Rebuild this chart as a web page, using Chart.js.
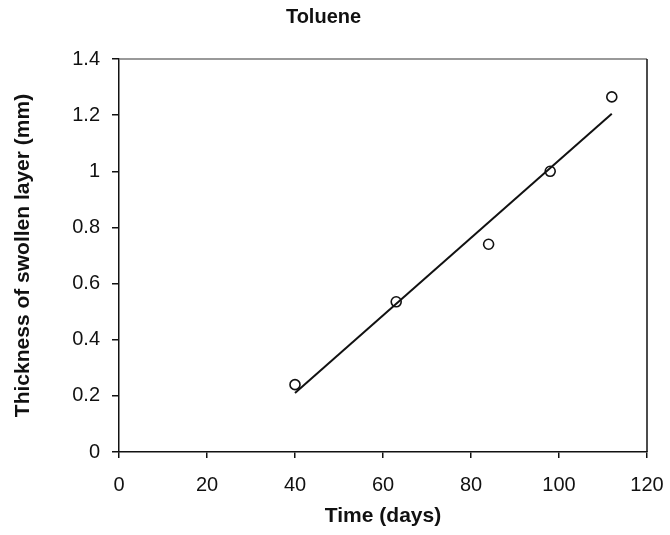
<!DOCTYPE html>
<html>
<head>
<meta charset="utf-8">
<title>Toluene</title>
<script src="https://cdn.jsdelivr.net/npm/chart.js@4.4.1/dist/chart.umd.min.js"></script>
<style>
  html, body { margin: 0; padding: 0; background: #fff; }
  #wrap { width: 670px; height: 535px; }
</style>
</head>
<body>
<div id="wrap"><canvas id="canvas" width="670" height="535"></canvas></div>
<script>
// measured swelling, toluene
const timeDays = [40, 63, 84, 98, 112];
const thickness = [0.24, 0.535, 0.74, 1.0, 1.265];

// fitted line end points
const fitDays = [40, 112];
const fitThickness = [0.21, 1.205];

const xTicks = [0, 20, 40, 60, 80, 100, 120];
const yTicks = [0, 0.2, 0.4, 0.6, 0.8, 1, 1.2, 1.4];

const FONT = "'Liberation Sans', Arial, sans-serif";

// right and top edges of the plot box
const boxPlugin = {
    id: 'box',
    afterDraw(chart){
        const {ctx, chartArea: a} = chart;
        ctx.save();
        ctx.lineWidth = 1.5;
        ctx.strokeStyle = '#777';
        ctx.beginPath();
        ctx.moveTo(a.left, a.top);
        ctx.lineTo(a.right, a.top);
        ctx.stroke();
        ctx.strokeStyle = '#111';
        ctx.beginPath();
        ctx.moveTo(a.right, a.top);
        ctx.lineTo(a.right, a.bottom);
        ctx.stroke();
        ctx.restore();
    }
};

const ctx = document.getElementById('canvas').getContext('2d');
const myChart = new Chart(ctx, {
    type: 'scatter',
    data: {
        datasets: [{
            label: 'Measured',
            data: timeDays.map((t, i) => ({x: t, y: thickness[i]})),
            pointStyle: 'circle',
            pointRadius: 5,
            pointBorderWidth: 1.6,
            pointBorderColor: '#111',
            pointBackgroundColor: 'transparent',
            showLine: false
        }, {
            label: 'Fit',
            data: fitDays.map((t, i) => ({x: t, y: fitThickness[i]})),
            showLine: true,
            pointRadius: 0,
            borderColor: '#111',
            borderWidth: 2,
            fill: false
        }]
    },
    options: {
        responsive: false,
        animation: false,
        layout: { padding: { left: 0, right: 23, top: 0, bottom: 0 } },
        plugins: {
            legend: { display: false },
            tooltip: { enabled: false },
            title: {
                display: true,
                text: 'Toluene',
                color: '#111',
                font: { family: FONT, size: 20, weight: 'bold', lineHeight: 1.2 },
                padding: { top: 5, bottom: 30 }
            }
        },
        scales: {
            x: {
                type: 'linear',
                min: 0,
                max: 120,
                afterBuildTicks: s => { s.ticks = xTicks.map(v => ({value: v})); },
                afterFit: s => { s.height = 83; s.paddingLeft = 0; s.paddingRight = 0; },
                ticks: { color: '#111', font: { family: FONT, size: 20 }, padding: 15 },
                grid: { drawOnChartArea: false, drawTicks: true, tickLength: 6, color: '#111', lineWidth: 1.5 },
                border: { display: true, color: '#111', width: 1.5 },
                title: {
                    display: true,
                    text: 'Time (days)',
                    color: '#111',
                    font: { family: FONT, size: 21, weight: 'bold', lineHeight: 1.2 },
                    padding: { top: 0, bottom: 6 }
                }
            },
            y: {
                min: 0,
                max: 1.4,
                afterBuildTicks: s => { s.ticks = yTicks.map(v => ({value: v})); },
                afterFit: s => { s.width = 119; s.paddingTop = 0; s.paddingBottom = 0; },
                ticks: {
                    color: '#111',
                    font: { family: FONT, size: 20 },
                    padding: 12,
                    callback: v => String(Number(v.toFixed(1)))
                },
                grid: { drawOnChartArea: false, drawTicks: true, tickLength: 7, color: '#111', lineWidth: 1.5 },
                border: { display: true, color: '#111', width: 1.5 },
                title: {
                    display: true,
                    text: 'Thickness of swollen layer (mm)',
                    color: '#111',
                    font: { family: FONT, size: 21, weight: 'bold', lineHeight: 1.2 },
                    padding: { top: 11, bottom: 0 }
                }
            }
        }
    },
    plugins: [boxPlugin]
});
</script>
</body>
</html>
